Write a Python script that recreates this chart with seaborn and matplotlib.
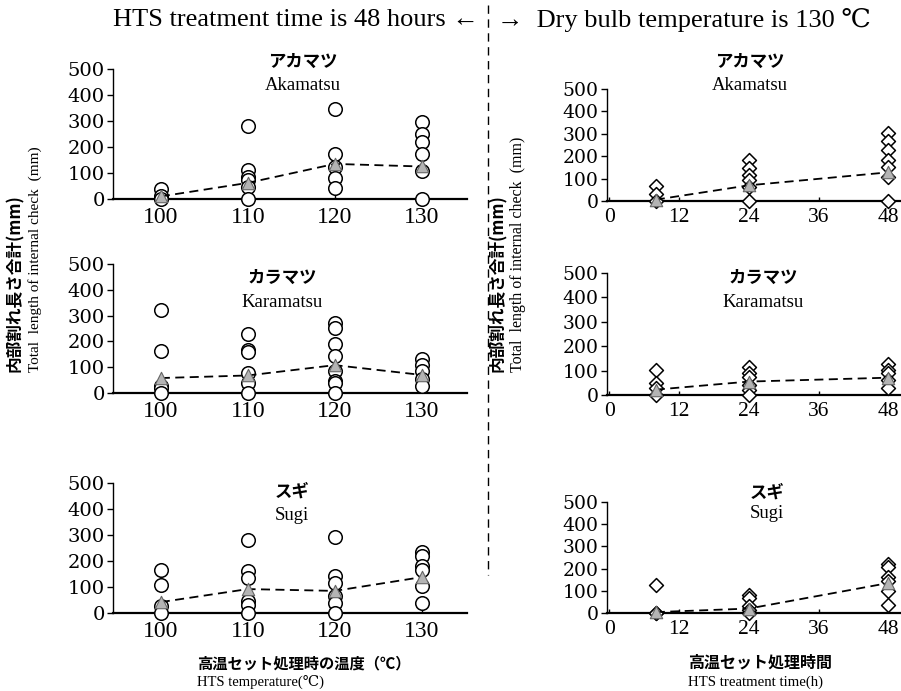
import numpy as np
import pandas as pd
import matplotlib
matplotlib.use("Agg")
import matplotlib.pyplot as plt
import seaborn as sns
from matplotlib.lines import Line2D

sns.set_theme(style="white")
plt.rcParams['font.family'] = ['Liberation Serif', 'DejaVu Serif']

# ---------------- data ----------------
species_jp = ["アカマツ", "カラマツ", "スギ"]
species_en = ["Akamatsu", "Karamatsu", "Sugi"]

temps = [100, 110, 120, 130]
# individual values (left: HTS time 48 h)
temp_pts = [
    {100: [38, 10, 0], 110: [281, 112, 86, 73, 47, 0], 120: [346, 173, 124, 82, 44],
     130: [295, 250, 218, 172, 108, 0]},
    {100: [320, 161, 26, 19, 0], 110: [229, 165, 159, 77, 39, 0],
     120: [273, 251, 191, 142, 84, 48, 39, 0], 130: [131, 110, 84, 54, 28]},
    {100: [167, 106, 26, 0], 110: [282, 160, 135, 45, 32, 0],
     120: [292, 141, 115, 64, 38, 0], 130: [233, 220, 180, 167, 103, 38]},
]
temp_mean = [
    [10, 62, 135, 125],
    [58, 68, 108, 70],
    [42, 92, 85, 138],
]

times = [8, 24, 48]
# individual values (right: dry bulb 130 C)
time_pts = [
    {8: [67, 30, 0], 24: [181, 146, 116, 94, 64, 0], 48: [303, 266, 228, 181, 154, 109, 0]},
    {8: [103, 48, 27, 0], 24: [116, 89, 75, 41, 21, 0], 48: [126, 103, 89, 62, 30]},
    {8: [124, 0, 0], 24: [82, 67, 30, 15, 0], 48: [219, 209, 164, 142, 101, 37]},
]
time_mean = [
    [6, 70, 128],
    [22, 55, 71],
    [4, 20, 135],
]

yticks = [0, 100, 200, 300, 400, 500]
time_ticks = [0, 12, 24, 36, 48]

# ---------------- layout ----------------
W, H = 901, 691
fig = plt.figure(figsize=(W / 100, H / 100), dpi=100)


def ax_px(x0, x1, y0, y1):
    # pixel box (top y0, bottom y1) -> axes
    return fig.add_axes([x0 / W, 1 - y1 / H, (x1 - x0) / W, (y1 - y0) / H])


left_boxes = [(113, 467, 69, 199), (113, 467, 264, 393), (113, 467, 483, 613)]
right_boxes = [(607, 900, 89, 201), (607, 900, 273, 395), (607, 900, 502, 613)]

jp_font = ['Noto Sans CJK JP']
tri_face = '#b4b4b4'


def style_axes(ax, xlim, xticks, xsize, ysize, xpad):
    ax.set_xlim(*xlim)
    ax.set_ylim(0, 500)
    ax.set_yticks(yticks)
    ax.set_xticks(xticks)
    ax.set_xlabel("")
    ax.set_ylabel("")
    for s in ["top", "right"]:
        ax.spines[s].set_visible(False)
    ax.spines["left"].set_color("black")
    ax.spines["bottom"].set_color("black")
    ax.spines["left"].set_linewidth(1.0)
    ax.spines["bottom"].set_linewidth(1.6)
    ax.tick_params(axis='y', which='both', left=True, direction='out', length=4,
                   width=1, pad=2, colors='black')
    ax.tick_params(axis='x', which='both', bottom=True, direction='in', length=3,
                   width=1, pad=xpad, colors='black')
    for lab in ax.get_yticklabels():
        lab.set_family(['DejaVu Serif'])
        lab.set_fontsize(ysize)
    for lab in ax.get_xticklabels():
        lab.set_family(['Liberation Serif'])
        lab.set_fontsize(xsize)
    ax.set_facecolor('none')
    ax.patch.set_alpha(0)


def draw_panel(ax, pts, xs, means, marker, msize):
    rows = []
    for x in xs:
        for v in pts[x]:
            rows.append((x, v))
    df = pd.DataFrame(rows, columns=["x", "y"])
    dm = pd.DataFrame({"x": xs, "y": means})
    sns.scatterplot(data=df, x="x", y="y", ax=ax, marker=marker, s=msize,
                    facecolor='white', edgecolor='black', linewidth=1.1,
                    clip_on=False, zorder=3)
    sns.lineplot(data=dm, x="x", y="y", ax=ax, color='black', linewidth=1.3,
                 linestyle=(0, (5, 3)), zorder=4, clip_on=False)
    sns.scatterplot(data=dm, x="x", y="y", ax=ax, marker='^', s=80,
                    facecolor=tri_face, edgecolor='#666666', linewidth=0.8,
                    clip_on=False, zorder=5)


for i in range(3):
    ax = ax_px(*left_boxes[i])
    draw_panel(ax, temp_pts[i], temps, temp_mean[i], 'o', 95)
    style_axes(ax, (94.5, 135.2), temps, 17, 14, 6)

    ax2 = ax_px(*right_boxes[i])
    draw_panel(ax2, time_pts[i], times, time_mean[i], 'D', 50)
    style_axes(ax2, (-0.4, 50.0), time_ticks, 15.5, 13.5, 5)

# ---------------- titles ----------------
left_title_pos = [(303, 62, 85), (282, 278, 302), (292, 492, 515)]
right_title_pos = [(750, 62, 85), (763, 278, 302), (767, 493, 513)]
for i in range(3):
    for (cx, yj, ye) in (left_title_pos[i], right_title_pos[i]):
        fig.text(cx / W, 1 - yj / H, species_jp[i], family=jp_font, fontsize=12.5,
                 fontweight='bold', ha='center', va='center', color='black')
        fig.text(cx / W, 1 - ye / H, species_en[i], fontsize=13.5,
                 ha='center', va='center', color='black')

# ---------------- header ----------------
fig.text(479 / W, 1 - 20 / H, "HTS treatment time is 48 hours ←", fontsize=19,
         ha='right', va='center', color='black')
fig.text(497 / W, 1 - 20 / H, "→  Dry bulb temperature is 130 ℃", fontsize=19,
         ha='left', va='center', color='black')
fig.add_artist(Line2D([488 / W, 488 / W], [1 - 5 / H, 1 - 575 / H], color='black',
                      linewidth=1.0, linestyle=(0, (6, 4)), transform=fig.transFigure))

# ---------------- y labels ----------------
ylab_jp = "内部割れ長さ合計(mm)"
ylab_en = "Total  length of internal check  (mm)"
for (xj, xe, fs_en) in ((15, 35, 11), (498, 518, 11.5)):
    fig.text(xj / W, 1 - 372 / H, ylab_jp, family=jp_font, fontsize=12, fontweight='bold',
             rotation=90, ha='center', va='bottom', color='black')
    fig.text(xe / W, 1 - 372 / H, ylab_en, fontsize=fs_en, rotation=90,
             ha='center', va='bottom', color='black')

# ---------------- x labels ----------------
fig.text(197 / W, 1 - 663 / H, "高温セット処理時の温度（℃）", family=jp_font, fontsize=11,
         fontweight='bold', ha='left', va='center', color='black')
fig.text(197 / W, 1 - 682 / H, "HTS temperature(℃)", fontsize=10.5,
         ha='left', va='center', color='black')
fig.text(760 / W, 1 - 663 / H, "高温セット処理時間", family=jp_font, fontsize=11.5,
         fontweight='bold', ha='center', va='center', color='black')
fig.text(755 / W, 1 - 682 / H, "HTS treatment time(h)", fontsize=10.7,
         ha='center', va='center', color='black')

fig.savefig("out.png", dpi=100, facecolor='white')
